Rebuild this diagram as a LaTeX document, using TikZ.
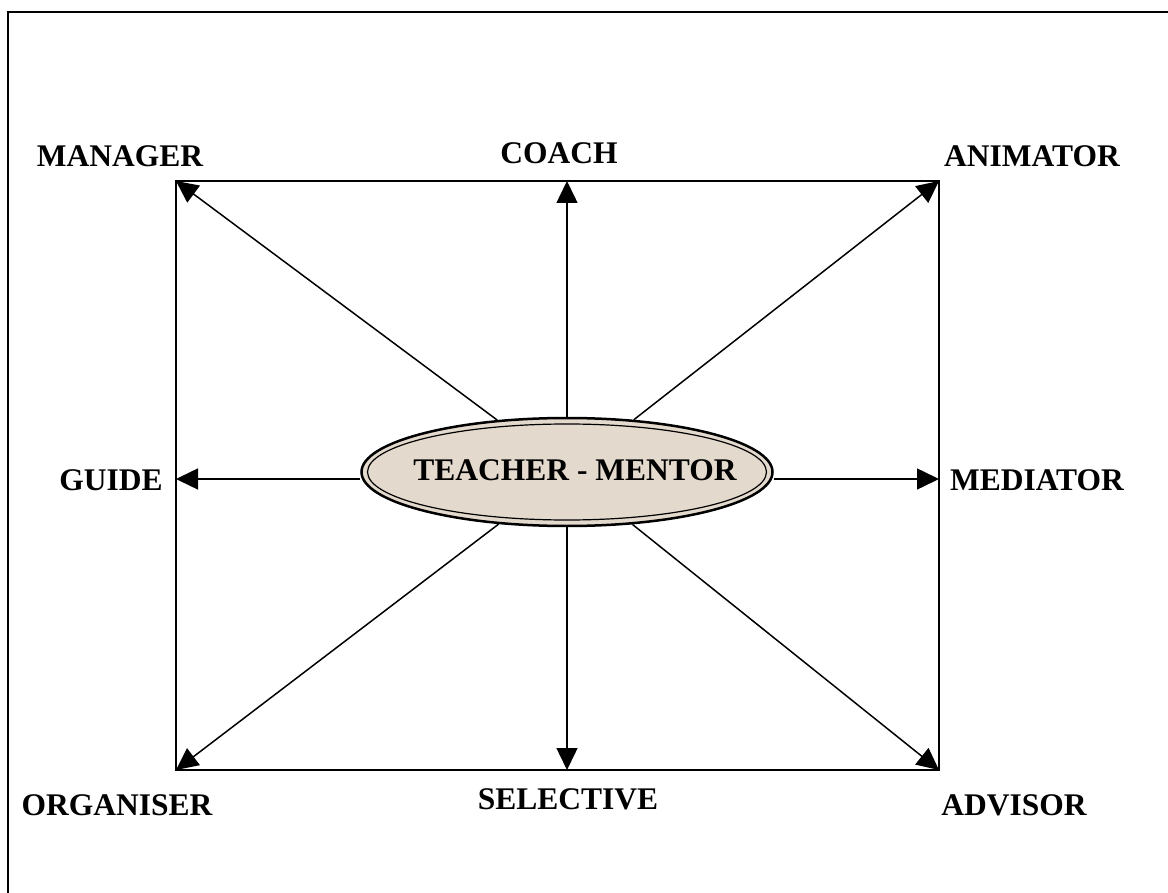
\documentclass[tikz,border=0pt]{standalone}
\usepackage{fontspec}
\setmainfont{Liberation Serif}
\usetikzlibrary{arrows.meta,shapes.geometric}

\definecolor{parchment}{HTML}{E3D9CC}

\tikzset{
  role/.style={font=\fontsize{31.5}{36}\selectfont\bfseries, inner sep=0pt, anchor=base},
  spoke/.style={line width=1.5pt, -{Triangle[length=22pt 0,width=21pt 0]}},
  frame/.style={line width=2pt},
}

\begin{document}
\begin{tikzpicture}[x=1pt,y=-1pt]
  \useasboundingbox (0,0) rectangle (1168,893);

  % outer page frame
  \draw[line width=2.5pt] (8,893) -- (8,12) -- (1168,12);

  % corner and edge points of the inner box
  \coordinate (tl) at (176,181);
  \coordinate (tm) at (567,181);
  \coordinate (tr) at (939,181);
  \coordinate (ml) at (176,479);
  \coordinate (mr) at (939,479);
  \coordinate (bl) at (176,770);
  \coordinate (bm) at (567,770);
  \coordinate (br) at (939,770);

  % inner box
  \draw[frame] (tl) rectangle (br);

  % central ellipse with a double rim
  \node[ellipse, draw, line width=2.5pt, fill=parchment,
        minimum width=411pt, minimum height=108pt, inner sep=0pt] (hub) at (567,472) {};
  \draw[line width=1.2pt] (hub.center) ellipse [x radius=199.5pt, y radius=48pt];
  \node[role] at (575,480) {TEACHER - MENTOR};

  % spokes
  \draw[spoke] (hub) -- (tl);
  \draw[spoke] (hub) -- (tm);
  \draw[spoke] (hub) -- (tr);
  \draw[spoke] (ml -| hub.west) -- (ml);
  \draw[spoke] (mr -| hub.east) -- (mr);
  \draw[spoke] (hub) -- (bl);
  \draw[spoke] (hub) -- (bm);
  \draw[spoke] (hub) -- (br);

  % role labels
  \node[role] (manager)   at (120,167) {MANAGER};
  \node[role] (coach)     at (559,164) {COACH};
  \node[role] (animator)  at (1032,167) {ANIMATOR};
  \node[role] (guide)     at (111,490) {GUIDE};
  \node[role] (mediator)  at (1037,490) {MEDIATOR};
  \node[role] (organiser) at (117,815) {ORGANISER};
  \node[role] (selective) at (568,809) {SELECTIVE};
  \node[role] (advisor)   at (1014,815) {ADVISOR};
\end{tikzpicture}
\end{document}
